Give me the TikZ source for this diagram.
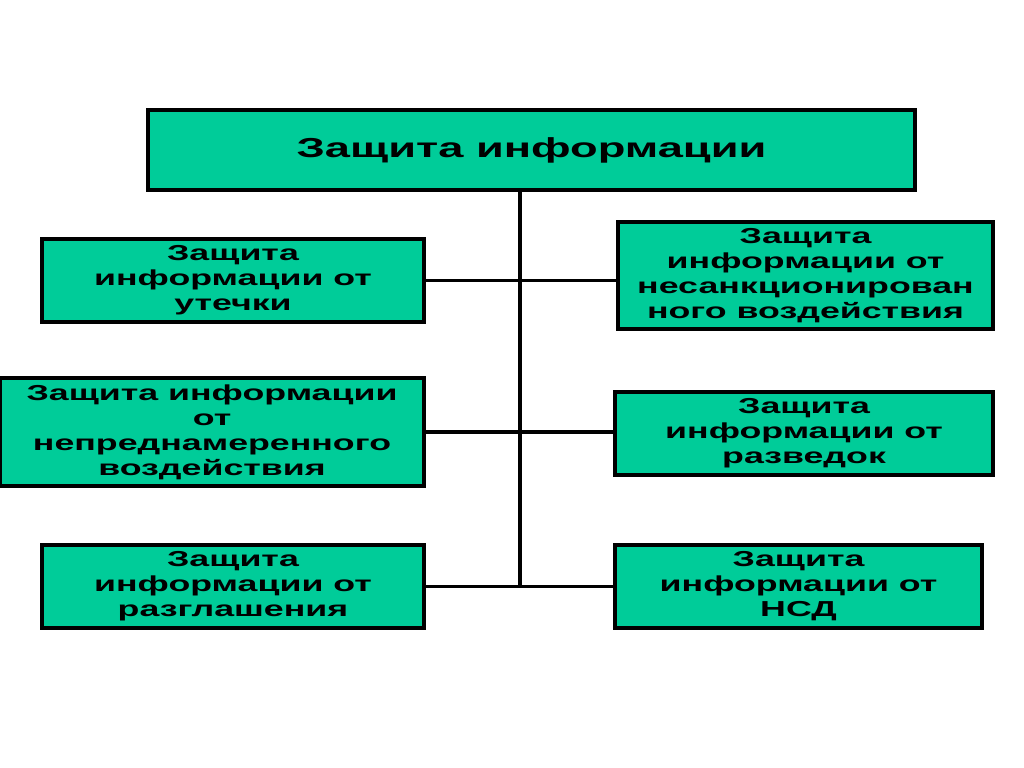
\documentclass[tikz,border=0pt]{standalone}
\usepackage{fontspec}
\newfontfamily\boxfont[FakeStretch=1.65]{Liberation Sans}
\usetikzlibrary{positioning}
\definecolor{boxgreen}{HTML}{00CC99}
\tikzstyle{topbox} = [rectangle,
  minimum width=19.175cm, minimum height=2cm,
  text centered, inner sep=0pt,
  draw=black, line width=2.4pt, fill=boxgreen,
  font=\boxfont\bfseries\fontsize{19.5}{24}\selectfont]
\tikzstyle{branch} = [rectangle,
  minimum width=9.55cm, minimum height=2.075cm,
  align=center, inner sep=0pt,
  draw=black, line width=2.4pt, fill=boxgreen,
  font=\boxfont\bfseries\fontsize{15.4}{17.8}\selectfont]
\tikzstyle{line} = [line width=2.2pt]

\begin{document}
\begin{tikzpicture}[x=0.025cm, y=-0.025cm]

\useasboundingbox[fill=white] (0,0) rectangle (1024,768);

%% ---- ROOT ----
\node (root) [topbox] at (531.5, 150) {Защита информации};

%% ---- LEFT BRANCHES ----
\node (leak) [branch] at (233, 280.5)
  {Защита\\информации от\\утечки};
\node (unint) [branch, minimum width=10.6cm, minimum height=2.7cm] at (212, 432)
  {Защита информации\\от\\непреднамеренного\\воздействия};
\node (discl) [branch] at (233, 586.5)
  {Защита\\информации от\\разглашения};

%% ---- RIGHT BRANCHES ----
\node (unauth) [branch, minimum width=9.375cm, minimum height=2.675cm] at (805.5, 275.5)
  {Защита\\информации от\\несанкционирован\\ного воздействия};
\node (intel) [branch, minimum width=9.45cm] at (804, 433.5)
  {Защита\\информации от\\разведок};
\node (nsd) [branch, minimum width=9.175cm] at (798.5, 586.5)
  {Защита\\информации от\\НСД};

%% ---- CONNECTORS ----
\coordinate (split) at (520, 586.5);
\draw[line] (root.south -| split) -- (split);
\draw[line] (leak.east)  -- (leak.east -| unauth.west);
\draw[line] (unint.east) -- (unint.east -| intel.west);
\draw[line] (discl.east) -- (nsd.west);

\end{tikzpicture}
\end{document}
